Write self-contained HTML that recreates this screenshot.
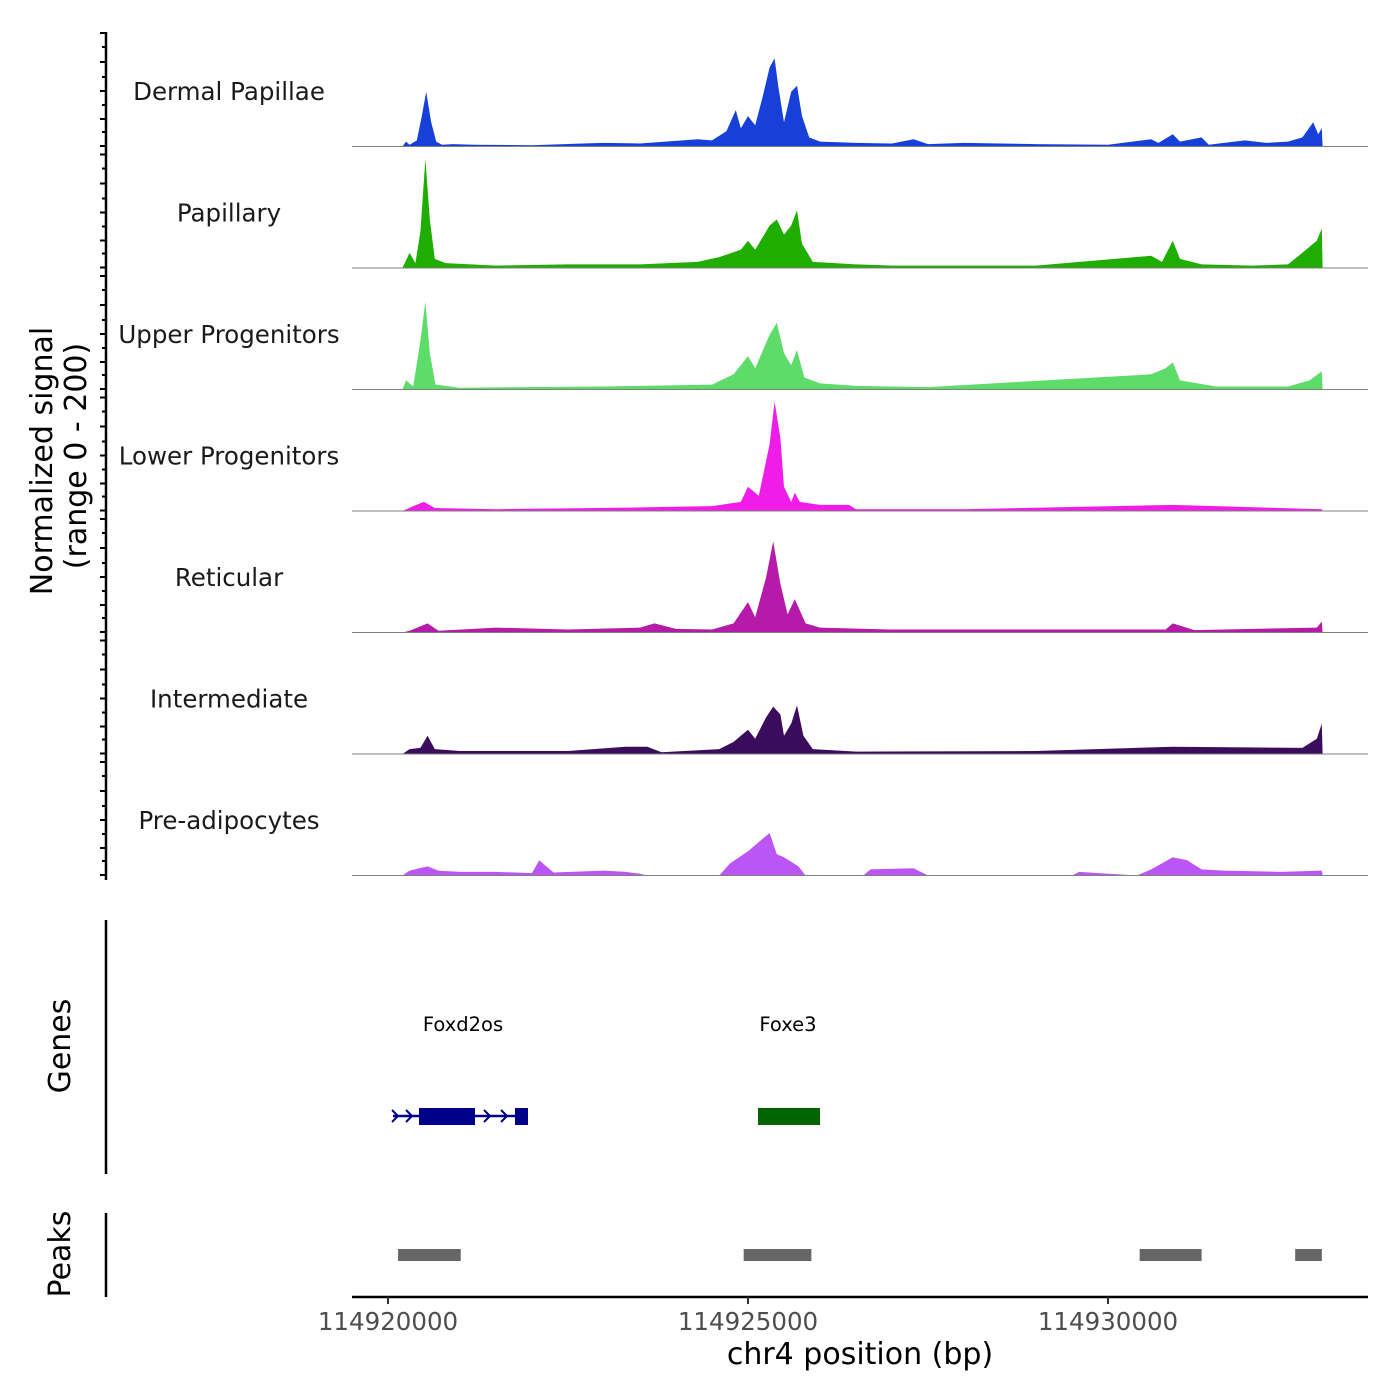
<!DOCTYPE html>
<html><head><meta charset="utf-8"><style>
html,body{margin:0;padding:0;background:#fff}
svg{display:block;font-family:"DejaVu Sans","Liberation Sans",sans-serif}
</style></head><body>
<svg id="chart" width="1400" height="1400" viewBox="0 0 1400 1400" xmlns="http://www.w3.org/2000/svg">
<rect width="1400" height="1400" fill="#fff"/>
<g id="tracks"></g>
<g id="yaxis"></g>
<text transform="translate(52,461) rotate(-90)" text-anchor="middle" font-size="30" fill="#000">Normalized signal</text>
<text transform="translate(86,456) rotate(-90)" text-anchor="middle" font-size="30" fill="#000">(range 0 - 200)</text>
<line x1="106" y1="920" x2="106" y2="1174" stroke="#000" stroke-width="2.5"/>
<text transform="translate(70,1046) rotate(-90)" text-anchor="middle" font-size="30">Genes</text>
<line x1="106" y1="1213" x2="106" y2="1297" stroke="#000" stroke-width="2.5"/>
<text transform="translate(70,1254) rotate(-90)" text-anchor="middle" font-size="30">Peaks</text>
<g id="genes"></g>
<g id="peaks"></g>
<g id="xaxis"></g>
<text x="860" y="1364" text-anchor="middle" font-size="30">chr4 position (bp)</text>
</svg>
<script>
const NS="http://www.w3.org/2000/svg";
const trackNames=["Dermal Papillae","Papillary","Upper Progenitors","Lower Progenitors","Reticular","Intermediate","Pre-adipocytes"];
const trackColors=["#1640d8","#1fad00","#5ddc6a","#f01de8","#b51aa8","#3b0c5c","#bb55f5"];
const dpPos=[0.2,0.25,0.3,0.4,0.47,0.53,0.6,0.67,0.75,0.9,1.2,2.0,2.7,3.0,3.5,4.3,4.5,4.7,4.83,4.9,5.0,5.1,5.2,5.3,5.37,5.42,5.5,5.6,5.68,5.75,5.85,6.0,6.5,7.0,7.3,7.5,8.0,8.5,9.0,10.0,10.6,10.7,10.9,11.0,11.3,11.4,11.9,12.2,12.5,12.7,12.85,12.92,12.97,12.98];
const dpVal=[0,8,3,10,50,90,40,8,3,4,3,2,5,6,5,12,10,25,60,30,50,35,80,130,145,100,40,90,100,50,15,8,6,5,12,4,6,5,4,3,12,6,20,8,15,3,10,6,8,15,40,20,30,0];
const papPos=[0.2,0.3,0.38,0.45,0.52,0.58,0.65,0.8,1.5,2.5,3.5,4.3,4.6,4.9,5.0,5.1,5.3,5.4,5.5,5.6,5.68,5.75,5.9,6.5,7.0,9.0,10.6,10.75,10.9,11.0,11.3,12.0,12.5,12.7,12.9,12.97,12.98];
const papVal=[0,25,8,60,180,80,15,8,4,6,6,10,18,30,45,30,70,80,55,70,95,40,10,6,4,4,20,10,45,15,6,4,6,25,45,65,0];
const upPos=[0.2,0.25,0.35,0.45,0.52,0.58,0.66,1.0,3.0,4.5,4.8,5.0,5.1,5.3,5.4,5.5,5.6,5.68,5.78,6.0,6.5,7.5,10.6,10.8,10.9,11.0,11.5,12.5,12.8,12.97,12.98];
const upVal=[0,15,5,80,145,60,8,3,5,8,25,55,35,90,110,60,40,65,20,10,6,4,25,35,45,15,5,5,15,30,0];
const lpPos=[0.2,0.35,0.5,0.65,1.5,3.5,4.5,4.9,5.0,5.15,5.3,5.37,5.45,5.5,5.6,5.65,5.72,6.0,6.4,6.5,8.0,10.9,12.97,12.98];
const lpVal=[0,8,15,5,3,6,8,15,40,25,110,180,120,40,15,30,15,10,10,3,3,10,3,0];
const retPos=[0.2,0.3,0.55,0.7,1.5,2.5,3.5,3.7,4.0,4.5,4.8,5.0,5.1,5.25,5.35,5.45,5.55,5.65,5.8,6.0,7.0,10.8,10.9,11.2,12.9,12.97,12.98];
const retVal=[0,3,15,3,8,5,8,15,6,5,15,50,25,90,150,80,30,55,15,8,5,5,15,4,8,18,0];
const intPos=[0.2,0.3,0.45,0.55,0.65,1.0,2.5,3.3,3.6,3.8,4.6,4.8,5.0,5.1,5.25,5.35,5.45,5.5,5.6,5.68,5.77,5.9,6.5,9.0,10.9,12.7,12.9,12.97,12.98];
const intVal=[0,8,10,30,8,5,5,12,12,3,8,20,40,25,60,78,65,30,50,80,30,8,4,5,12,10,25,50,0];
const prePos=[0.2,0.3,0.55,0.7,1.0,1.5,2.0,2.1,2.3,3.0,3.3,3.5,3.6,4.6,4.75,5.0,5.2,5.3,5.4,5.5,5.7,5.8,6.6,6.7,7.3,7.5,9.5,9.6,10.4,10.6,10.9,11.1,11.3,11.6,12.4,12.97,12.98];
const preVal=[0,8,15,8,6,6,4,25,5,8,6,3,0,0,20,40,60,70,35,30,15,0,0,10,12,0,0,6,0,10,30,25,10,8,6,8,0];
const allPos=[dpPos,papPos,upPos,lpPos,retPos,intPos,prePos];
const allVal=[dpVal,papVal,upVal,lpVal,retVal,intVal,preVal];
const xTicks=[114920000,114925000,114930000];
const xTickLabels=["114920000","114925000","114930000"];
const geneNames=["Foxd2os","Foxe3"];
const peakStarts=[0.14,4.94,10.44,12.6];
const peakEnds=[1.01,5.88,11.3,12.97];

const X0=114920000;
function xs(bp){return 388+(bp-X0)*0.072;}
function xk(kb){return xs(X0+kb*1000);}
const trackTop=25, trackH=121.5;
function ys(v,i){return trackTop+(i+1)*trackH - v/200*trackH;}
function mk(tag,attrs,parent){const e=document.createElementNS(NS,tag);for(const k in attrs)e.setAttribute(k,attrs[k]);parent.appendChild(e);return e;}

const tg=document.getElementById('tracks');
trackNames.forEach((name,i)=>{
  const g=mk('g',{},tg);
  
  
  const base=ys(0,i);
  let d='M'+xk(allPos[i][0])+','+base;
  allPos[i].forEach((p,j)=>{d+=' L'+xk(p).toFixed(1)+','+ys(allVal[i][j],i).toFixed(1);});
  d+=' L'+xk(allPos[i][allPos[i].length-1]).toFixed(1)+','+base+' Z';
  const a=mk('path',{d:d,fill:trackColors[i]},g);
  
  
  const l=mk('line',{x1:352,x2:1368,y1:base,y2:base,stroke:'#7f7f7f','stroke-width':1},g);
  
  
  const t=mk('text',{x:229,y:trackTop+i*trackH+75,'text-anchor':'middle','font-size':24.5,fill:'#1a1a1a'},g);
  t.textContent=name;
  
  
});

const ya=document.getElementById('yaxis');
mk('line',{x1:106,x2:106,y1:32,y2:880,stroke:'#000','stroke-width':2.5},ya);
for(let i=0;i<7;i++){
  const top=trackTop+i*trackH;
  [8,37,66,94,121].forEach(o=>{mk('line',{x1:100,x2:106,y1:top+o,y2:top+o,stroke:'#000','stroke-width':2},ya);});
  [22,52,80,107].forEach(o=>{mk('line',{x1:102,x2:106,y1:top+o,y2:top+o,stroke:'#000','stroke-width':2},ya);});
}

const gg=document.getElementById('genes');
const gl1=mk('text',{x:463,y:1031,'text-anchor':'middle','font-size':19.5},gg);gl1.textContent=geneNames[0];


const gl2=mk('text',{x:788,y:1031,'text-anchor':'middle','font-size':19.5},gg);gl2.textContent=geneNames[1];


mk('line',{x1:393,x2:528,y1:1116,y2:1116,stroke:'#00008b','stroke-width':2.5},gg);
mk('rect',{x:419,y:1108,width:56,height:17,fill:'#00008b'},gg);
mk('rect',{x:515,y:1108,width:13,height:17,fill:'#00008b'},gg);
[398,412,490,507,526].forEach(x=>{mk('path',{d:`M${x-6},${1110} L${x},${1116} L${x-6},${1122}`,fill:'none',stroke:'#00008b','stroke-width':2},gg);});
mk('rect',{x:758,y:1108,width:62,height:17,fill:'#006400'},gg);

const pg=document.getElementById('peaks');
peakStarts.forEach((s,i)=>{
  const r=mk('rect',{x:xk(s),y:1249,width:xk(peakEnds[i])-xk(s),height:12,fill:'#666'},pg);
  
  
});

const xa=document.getElementById('xaxis');
mk('line',{x1:352,x2:1368,y1:1297,y2:1297,stroke:'#000','stroke-width':2.5},xa);
xTicks.forEach((t,i)=>{
  mk('line',{x1:xs(t),x2:xs(t),y1:1297,y2:1304,stroke:'#333','stroke-width':2},xa);
  const tx=mk('text',{x:xs(t),y:1330,'text-anchor':'middle','font-size':24.5,fill:'#4d4d4d'},xa);
  tx.textContent=xTickLabels[i];
  
  
});
</script>
</body></html>
